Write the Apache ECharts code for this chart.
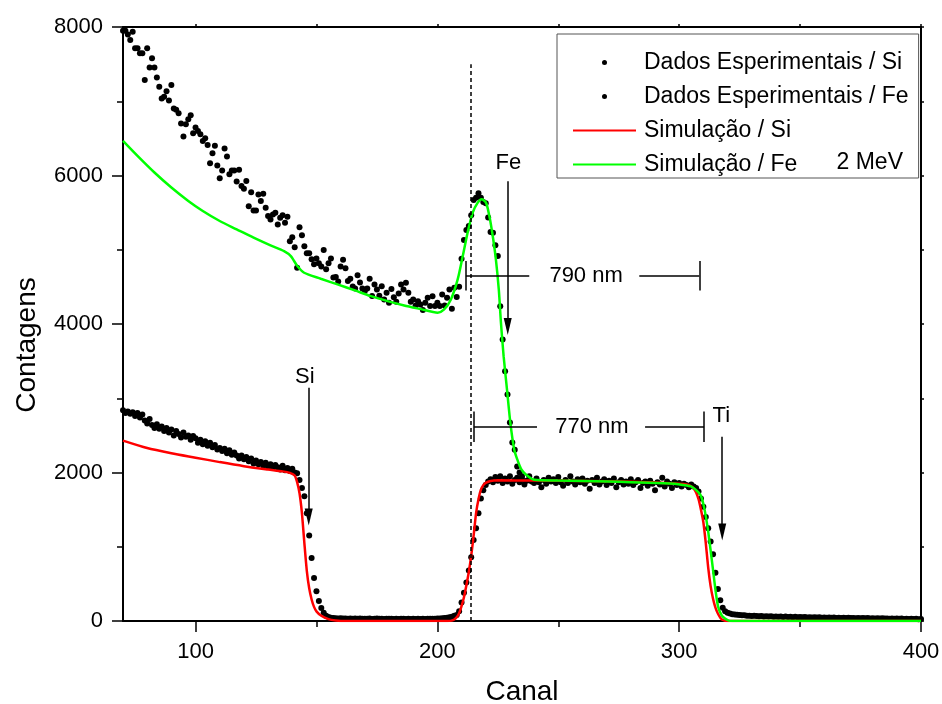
<!DOCTYPE html>
<html>
<head>
<meta charset="utf-8">
<script src="https://cdn.jsdelivr.net/npm/echarts@6/dist/echarts.min.js"></script>
<style>
  html, body { margin: 0; padding: 0; background: #fff; }
  #chart { width: 942px; height: 704px; }
</style>
</head>
<body>
<div id="chart"></div>
<script>
// experimental counts, one value per channel starting at siStart / feStart
var siStart = 70;
var siCounts = [
  2840, 2800, 2820, 2790, 2810, 2760, 2800, 2740, 2780, 2700,
  2660, 2720, 2640, 2600, 2650, 2590, 2620, 2560, 2600, 2540,
  2580, 2500, 2560, 2520, 2470, 2540, 2480, 2500, 2440, 2490,
  2460, 2400, 2440, 2380, 2420, 2360, 2400, 2340, 2370, 2310,
  2330, 2290, 2320, 2260, 2300, 2240, 2270, 2230, 2190, 2230,
  2180, 2210, 2150, 2190, 2120, 2160, 2110, 2140, 2090, 2130,
  2080, 2110, 2060, 2100, 2070, 2040, 2090, 2030, 2060, 2020,
  2050, 2000, 1990, 1900, 1790, 1680, 1450, 1150, 850, 580,
  400, 270, 175, 110, 70, 55, 45, 40, 38, 35,
  36, 32, 35, 30, 34, 31, 33, 30, 32, 29,
  31, 30, 33, 28, 30, 32, 29, 31, 28, 30,
  29, 31, 28, 30, 27, 29, 31, 28, 30, 27,
  29, 28, 30, 27, 29, 28, 30, 29, 31, 30,
  32, 34, 36, 40, 44, 50, 58, 70, 80, 130,
  250, 380, 520, 680, 860, 1090, 1250, 1450, 1650, 1760,
  1830, 1880, 1910, 1870, 1940, 1890, 1950, 1860, 1920, 1880,
  1950, 1850, 1900, 1930, 1870, 1910, 1840, 1890, 1950, 1880,
  1860, 1920, 1870, 1800, 1900, 1850, 1930, 1880, 1910, 1860,
  1940, 1870, 1820, 1900, 1860, 1950, 1880, 1840, 1910, 1870,
  1920, 1850, 1890, 1780, 1900, 1860, 1930, 1840, 1880, 1910,
  1830, 1890, 1860, 1920, 1800, 1870, 1900, 1840, 1880, 1850,
  1910, 1830, 1870, 1900, 1790, 1860, 1880, 1820, 1890, 1850,
  1760, 1870, 1840, 1930, 1810, 1880, 1850, 1790, 1870, 1830,
  1860, 1810, 1850, 1830, 1800, 1840, 1810, 1790, 1744, 1650,
  1540, 1400, 1250, 1070, 900, 650, 430, 280, 180, 130,
  110, 100, 92, 88, 84, 80, 76, 78, 72, 70,
  68, 72, 66, 64, 68, 62, 65, 60, 63, 58,
  62, 57, 60, 55, 59, 54, 57, 52, 56, 51,
  54, 50, 53, 48, 52, 47, 50, 46, 49, 45,
  48, 44, 47, 43, 46, 42, 45, 41, 44, 40,
  43, 39, 42, 38, 41, 37, 40, 36, 39, 35,
  38, 34, 37, 33, 36, 32, 35, 31, 34, 30,
  33, 29, 32, 28, 31, 27, 30, 26, 29, 25,
  28
];

var feStart = 70;
var feCounts = [
  7950, 7950, 7900, 7825, 7937, 7713, 7713, 7645, 7645, 7285,
  7713, 7456, 7578, 7456, 7321, 7195, 7038, 7060, 7133, 7010,
  7218, 6903, 6885, 6840, 6700, 6525, 6691, 6759, 6813, 6570,
  6647, 6600, 6556, 6466, 6502, 6412, 6165, 6300, 6400, 6133,
  5963, 6066, 6363, 6255, 6017, 6066, 6066, 5920, 6079, 5857,
  5822, 5927, 5587, 5776, 5529, 5529, 5745, 5655, 5754, 5565,
  5453, 5408, 5475, 5497, 5340, 5430, 5466, 5363, 5444, 5115,
  5169, 5034, 4756, 5304, 5196, 5048, 4954, 4954, 4873, 4806,
  4882, 4819, 4774, 4995, 4739, 4819, 4882, 4625, 4634, 4571,
  4774, 4864, 4751, 4580, 4611, 4504, 4477, 4656, 4558, 4477,
  4445, 4477, 4611, 4378, 4533, 4465, 4380, 4510, 4330, 4420,
  4286, 4470, 4360, 4300, 4410, 4533, 4465, 4556, 4421, 4300,
  4330, 4250, 4308, 4263, 4190, 4286, 4353, 4241, 4375, 4241,
  4286, 4241, 4398, 4250, 4353, 4465, 4204, 4488, 4364, 4502,
  4880, 5130, 5266, 5320, 5463, 5670, 5700, 5760, 5700, 5643,
  5626, 5433, 5240, 5230, 5059, 4915, 4240, 3791, 3363, 3049,
  2675, 2405, 2307, 2082, 2000, 1950
];

// simulations, [canal, contagens]
var simSi = [
  [70, 2430], [80, 2330], [90, 2260], [100, 2200], [110, 2140], [120, 2085],
  [130, 2040], [136, 2015], [139, 1995], [141, 1960], [142, 1870], [143, 1720],
  [144, 1450], [145, 1050], [146, 680], [147, 440], [148, 290], [149, 190],
  [150, 130], [152, 70], [155, 25], [158, 8], [162, 0], [204, 0], [206, 5],
  [207, 20], [208, 50], [209, 104], [210, 200], [211, 320], [212, 480],
  [213, 660], [214, 880], [215, 1150], [216, 1450], [217, 1640], [218, 1770],
  [219, 1830], [220, 1860], [222, 1885], [225, 1895], [240, 1892], [260, 1885],
  [280, 1875], [300, 1850], [303, 1840], [305, 1815], [306, 1785], [307, 1730],
  [308, 1640], [309, 1500], [310, 1330], [311, 1050], [312, 720], [313, 470],
  [314, 300], [315, 180], [316, 100], [317, 45], [318, 15], [320, 0], [400, 0]
];

var simFe = [
  [70, 6466], [76, 6264], [83, 6040], [90, 5838], [97, 5657], [103, 5522],
  [110, 5387], [117, 5275], [124, 5163], [131, 5059], [136.6, 4982], [139.4, 4915],
  [142.1, 4780], [144.9, 4690], [151.8, 4610], [158.7, 4533], [165.6, 4456],
  [172.5, 4375], [179.4, 4308], [186.3, 4250], [193.2, 4200], [200.1, 4151],
  [202.8, 4196], [205.6, 4330], [208.4, 4600], [210.5, 4915], [212.5, 5230],
  [214.6, 5500], [216.7, 5635], [218.3, 5680], [220.1, 5635], [221.5, 5455],
  [222.9, 5185], [224.2, 4870], [225.4, 4465], [226.3, 4016], [227.4, 3566],
  [228.8, 3116], [230.2, 2666], [231.8, 2307], [233, 2180], [234.6, 2050],
  [236.7, 1970], [240.1, 1902], [249.8, 1893], [270.5, 1880], [298.1, 1848],
  [303.6, 1821], [305, 1812], [307.8, 1740], [309.1, 1677], [310.5, 1500],
  [311.9, 1228], [313, 950], [314, 688], [315, 420], [316.1, 193], [317.5, 80],
  [318.8, 36], [320.5, 5], [322, 0], [400, 0]
];

var legendNames = ['Dados Esperimentais / Si', 'Dados Esperimentais / Fe', 'Simulação / Si', 'Simulação / Fe'];

// annotations: text labels, arrows (from -> to) and the thickness bars
var noteTexts = [
  { name: 'Si', value: [145.2, 3290] },
  { name: 'Fe', value: [229.4, 6172] },
  { name: 'Ti', value: [317.4, 2760] },
  { name: '790 nm', value: [261.5, 4654] },
  { name: '770 nm', value: [263.9, 2617] }
];
var arrows = [
  [[146.8, 3143], [146.8, 1400]],
  [[229.1, 5922], [229.1, 3966]],
  [[317.8, 2482], [317.8, 1200]]
];
var barSegments = [
  [[211.8, 4654], [238.0, 4654]], [[283.5, 4654], [308.3, 4654]],
  [[211.8, 4450], [211.8, 4850]], [[308.3, 4450], [308.3, 4850]],
  [[215.1, 2621], [241.2, 2621]], [[285.9, 2621], [310.3, 2621]],
  [[215.1, 2410], [215.1, 2820]], [[310.3, 2410], [310.3, 2820]]
];
var dashedLine = [[213.6, 0], [213.6, 7500]];

var xMajor = [100, 200, 300, 400];
var xMinor = [150, 250, 350];

var FONT = 'Liberation Sans, Arial, sans-serif';

function toPoints(start, counts) {
  return counts.map(function (v, i) { return [start + i, v]; });
}

var markData = [];
arrows.forEach(function (a) {
  markData.push([
    { coord: a[0], symbol: 'none' },
    { coord: a[1], symbol: 'triangle', symbolSize: [8, 17] }
  ]);
});
barSegments.forEach(function (s) {
  markData.push([{ coord: s[0] }, { coord: s[1] }]);
});
markData.push([
  { coord: dashedLine[0], lineStyle: { type: [4, 3], width: 1.5 } },
  { coord: dashedLine[1] }
]);

var chart = echarts.init(document.getElementById('chart'));

chart.setOption({
  animation: false,
  backgroundColor: '#fff',
  textStyle: { fontFamily: FONT },
  grid: { left: 123, right: 21, top: 27, bottom: 83, containLabel: false, outerBoundsMode: 'none' },
  legend: {
    orient: 'vertical',
    left: 557,
    top: 34,
    padding: [16, 10, 1, 15],
    itemGap: 9,
    itemWidth: 63,
    itemHeight: 5,
    borderColor: '#555',
    borderWidth: 1,
    textStyle: { fontSize: 23, color: '#000', fontFamily: FONT, lineHeight: 25, padding: [0, 0, 0, 3] },
    data: [
      { name: legendNames[0], icon: 'circle' },
      { name: legendNames[1], icon: 'circle' },
      { name: legendNames[2], itemStyle: { opacity: 0 } },
      { name: legendNames[3], itemStyle: { opacity: 0 } }
    ]
  },
  graphic: [{
    type: 'text',
    right: 39,
    top: 151,
    style: { text: '2 MeV', font: '23px ' + FONT, fill: '#000' }
  }],
  xAxis: [{
    type: 'value',
    min: 70,
    max: 400,
    position: 'bottom',
    name: 'Canal',
    nameLocation: 'middle',
    nameGap: 57,
    nameTextStyle: { fontSize: 28, color: '#000', fontFamily: FONT },
    axisLine: { onZero: false, lineStyle: { color: '#000', width: 2 } },
    axisTick: { customValues: xMajor, length: 11, lineStyle: { color: '#000', width: 1.5 } },
    axisLabel: { customValues: xMajor, fontSize: 22, color: '#000', margin: 20, fontFamily: FONT },
    splitLine: { show: false }
  }, {
    type: 'value',
    min: 70,
    max: 400,
    position: 'bottom',
    axisLine: { show: false },
    axisTick: { customValues: xMinor, length: 6, lineStyle: { color: '#000', width: 1.5 } },
    axisLabel: { show: false },
    splitLine: { show: false }
  }, {
    type: 'value',
    min: 70,
    max: 400,
    position: 'top',
    axisLine: { onZero: false, lineStyle: { color: '#000', width: 2 } },
    axisTick: { customValues: xMajor.concat(xMinor), length: 3, lineStyle: { color: '#000', width: 1.5 } },
    axisLabel: { show: false },
    splitLine: { show: false }
  }],
  yAxis: [{
    type: 'value',
    min: 0,
    max: 8000,
    interval: 2000,
    position: 'left',
    name: 'Contagens',
    nameLocation: 'middle',
    nameGap: 82,
    nameRotate: 90,
    nameTextStyle: { fontSize: 28, color: '#000', fontFamily: FONT, padding: [0, 42, 0, 0] },
    axisLine: { show: true, onZero: false, lineStyle: { color: '#000', width: 2 } },
    axisTick: { show: true, length: 11, lineStyle: { color: '#000', width: 1.5 } },
    minorTick: { show: true, splitNumber: 2, length: 6, lineStyle: { color: '#000', width: 1.5 } },
    axisLabel: {
      fontSize: 22, color: '#000', margin: 20, fontFamily: FONT,
      formatter: function (v) { return String(v); }
    },
    splitLine: { show: false }
  }, {
    type: 'value',
    min: 0,
    max: 8000,
    interval: 2000,
    position: 'right',
    axisLine: { show: true, onZero: false, lineStyle: { color: '#000', width: 2 } },
    axisTick: { show: true, length: 3, lineStyle: { color: '#000', width: 1.5 } },
    minorTick: { show: true, splitNumber: 2, length: 3, lineStyle: { color: '#000', width: 1.5 } },
    axisLabel: { show: false },
    splitLine: { show: false }
  }],
  series: [{
    name: legendNames[0],
    type: 'scatter',
    symbol: 'circle',
    symbolSize: 6,
    itemStyle: { color: '#000', opacity: 1 },
    data: toPoints(siStart, siCounts)
  }, {
    name: legendNames[1],
    type: 'scatter',
    symbol: 'circle',
    symbolSize: 6,
    itemStyle: { color: '#000', opacity: 1 },
    data: toPoints(feStart, feCounts)
  }, {
    name: legendNames[2],
    type: 'line',
    symbol: 'none',
    smooth: 0.25,
    lineStyle: { color: '#ff0000', width: 2.5 },
    itemStyle: { color: '#ff0000' },
    data: simSi
  }, {
    name: legendNames[3],
    type: 'line',
    symbol: 'none',
    smooth: 0.25,
    lineStyle: { color: '#00ff00', width: 2.5 },
    itemStyle: { color: '#00ff00' },
    data: simFe
  }, {
    name: 'notas',
    type: 'scatter',
    symbolSize: 0,
    silent: true,
    z: 5,
    itemStyle: { opacity: 1 },
    label: {
      show: true,
      position: 'inside',
      formatter: '{b}',
      color: '#000',
      fontFamily: FONT,
      fontSize: 22
    },
    data: noteTexts,
    markLine: {
      silent: true,
      symbol: ['none', 'none'],
      label: { show: false },
      lineStyle: { color: '#000', width: 1.5, type: 'solid' },
      emphasis: { disabled: true },
      data: markData
    }
  }]
});
</script>
</body>
</html>
